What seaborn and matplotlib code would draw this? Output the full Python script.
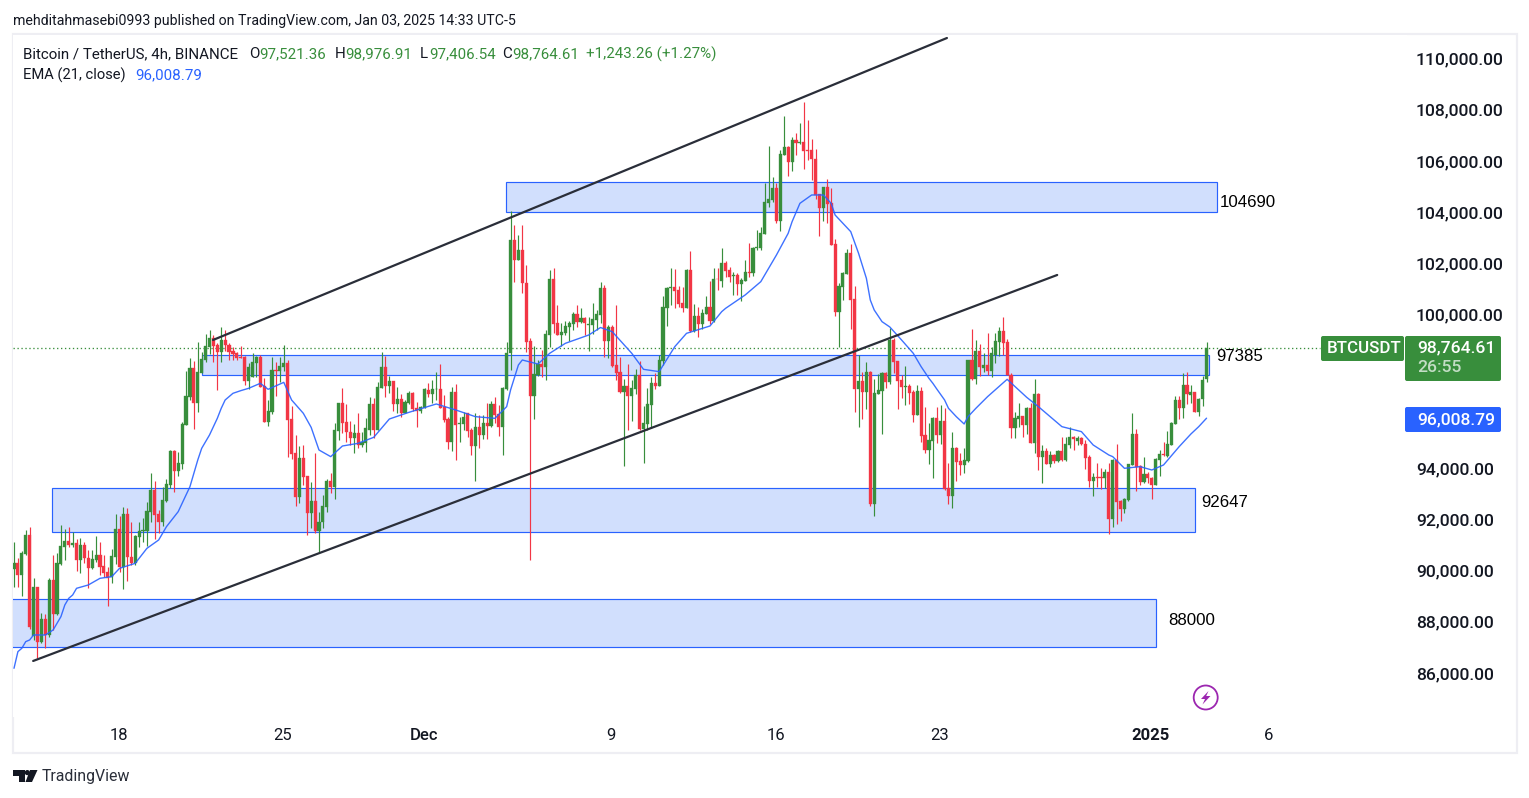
import matplotlib
matplotlib.use("Agg")
import matplotlib.pyplot as plt
import matplotlib.transforms as mtransforms
from matplotlib.patches import Rectangle, Polygon, Circle, FancyBboxPatch
from matplotlib.ticker import FuncFormatter, FixedLocator
import numpy as np
import pandas as pd
import seaborn as sns

opens = [
90105,90365,89884,90704,91446,87501,89415,87254,88165,87540,
89688,88360,90313,90964,91212,91056,91121,90470,91056,90535,
90157,90470,90665,90235,90001,89819,90574,91681,90183,92266,
90574,90365,91381,91615,91615,92344,93204,92266,91954,92774,
93399,94727,93959,94219,95743,96823,97969,96615,97787,98282,
98802,99141,98867,98594,99063,98867,98633,98568,98412,98412,
97461,97631,98164,98399,97266,95860,96250,97891,97852,97995,
98164,95977,94636,92930,94454,93750,92318,92774,91602,91967,
92553,93555,93334,95521,96602,95847,95456,95235,95430,94961,
95052,95547,96563,95547,97201,98008,97266,97461,96563,96758,
96198,96589,97005,96407,96276,96407,97110,96953,97136,97149,
96433,95977,95078,97031,95781,95781,96198,95547,94922,95651,
95339,95807,95703,96563,96159,95677,97136,98542,102969,102187,
102578,101276,99024,96888,97695,98138,98021,99258,101445,99714,
99271,99323,99583,99688,100078,99766,99935,99662,99649,99844,
100040,101094,99024,99558,98086,97800,97032,97266,96876,97162,
97696,95574,95782,96537,97370,97266,98256,100300,101107,101120,
101016,100495,100300,101797,99415,100000,99688,100079,100352,99805,
101446,101368,102084,101797,101550,101589,101250,101381,101719,101693,
102670,102670,103203,104427,104531,105000,103724,106289,106602,106016,
106875,106758,106797,106471,106471,106133,104753,104219,105039,104414,
102813,100157,101120,101628,102461,100664,97149,97461,97032,97813,
92657,96954,97071,97774,97410,99063,98256,97501,97227,97253,
97045,96121,97071,95339,94767,95131,96017,95352,95899,93269,
92983,94845,94324,94181,94337,98282,97540,98634,97956,98087,
97852,98477,98972,99415,98985,97696,95639,95977,96095,95743,
96407,95027,96954,94506,94728,94220,94571,94337,94728,94376,
94962,95287,95131,95248,95001,94506,93556,93699,93699,93660,
93907,92071,94376,92775,92462,92814,94181,95392,94142,93504,
93842,93686,93399,94376,94610,94545,94962,95782,96720,96407,
97306,96928,97032,96251,96746,97521]
highs = [
91186,90535,90834,91641,91759,89754,89428,88413,88360,89754,
90665,90730,91837,91667,91759,91576,91290,91342,91186,90860,
90860,91407,91160,90665,90209,90899,92266,92188,92553,92488,
91967,91446,91954,92097,92748,93855,93542,92423,93334,93620,
94766,94766,94701,95873,97852,98373,98230,98985,98607,99297,
99453,99271,98933,99558,99453,98933,98802,98607,98828,98438,
98151,98542,98438,98477,97566,96719,98386,98216,98386,98867,
98282,96485,95352,94922,94961,93750,93503,94636,92331,93008,
93620,93855,95807,96602,97188,96563,95899,95781,96198,95482,
96003,96849,96784,97435,98594,98438,97657,97461,97240,96940,
96719,97057,97031,96641,96485,97175,97396,97500,97813,98125,
96914,96068,97240,97344,96068,96263,96198,95625,96198,96133,
96133,96615,96680,96849,96524,97240,98984,104101,103555,103164,
103555,101992,99128,98828,98281,98672,99453,101797,101875,100430,
99740,99805,99805,100143,100430,100325,99974,99974,100521,100235,
101329,101198,99649,99649,100430,98412,97540,98126,97501,97917,
98243,96485,97175,97631,97787,98477,100782,101146,101875,101836,
101172,101120,101836,102526,100469,100339,100261,100782,101381,101875,
101888,102657,102136,101901,101732,101667,101485,102188,102839,102709,
103360,103490,105208,106641,105417,105182,106484,107812,106641,107005,
107161,107552,108359,107656,106901,106523,104753,105039,105352,105000,
103008,101302,101732,102618,102813,101172,98477,97813,98204,97852,
97540,97735,97813,97813,99519,99128,98256,97696,98048,97345,
97110,97306,97214,96433,95808,96043,96459,96524,96394,94246,
95483,94871,94636,94832,98282,99493,99063,98894,98542,99324,
98803,99324,99584,99975,99089,97761,96264,96589,96095,96433,
96589,97527,96980,94962,94832,94741,94610,94767,95287,95287,
95678,95313,95313,95261,95157,94571,93881,94246,94050,94037,
94246,94402,95001,92814,92879,94220,96225,95600,94181,94506,
93894,93725,94441,94767,95066,95522,95873,96876,96876,97761,
97813,97306,97032,96811,97670,98976]
lows = [
89428,89428,89063,90665,87775,87345,86629,87215,87045,87475,
87735,88321,90274,90470,90990,90964,90053,89949,90339,89363,
90105,90404,89884,89819,88673,89584,90313,90014,89350,89662,
90274,90274,90990,91186,91016,91967,91290,91511,91798,92748,
93269,93139,93751,94011,95730,96719,95599,96250,97761,98216,
98516,98216,97110,98216,98646,98282,98282,98282,98347,97305,
97149,97605,97631,97240,95860,95704,96172,96875,97435,97865,
94506,94402,92579,92683,93399,91446,91706,91537,90730,91706,
92357,93100,92839,95157,95417,95091,94961,94636,94831,94896,
94701,95352,95222,95547,97175,96849,96979,96302,96198,96068,
96198,96563,96302,95677,96198,96393,96849,96589,96719,96393,
95873,94805,94740,94375,95091,95547,95261,94571,93568,94857,
95209,95209,95677,95807,95313,94571,97110,97891,101341,102187,
100911,98607,90469,95977,97669,97630,97500,98776,99323,99271,
98841,99271,99037,99453,99557,99714,99258,98646,99297,99454,
99740,98412,98347,97995,97501,96980,94154,95548,95899,96954,
95548,94246,95548,95613,97149,97266,98086,99623,100430,100300,
100365,100170,100300,99363,99389,99193,99480,100079,99675,99779,
101016,101146,101537,101342,100821,100821,100599,101355,101511,101563,
102578,102578,103203,104271,104466,103620,103321,106289,105469,105664,
106289,106719,105742,106094,105313,104570,103125,103724,103620,102774,
100000,98803,100625,101628,99493,96251,95678,95977,96368,92579,
92189,96954,95391,97188,97345,97761,96368,96785,96524,96563,
95873,96121,95092,94662,94220,93686,95027,95001,93204,92657,
92514,93569,93790,93855,94311,97501,97345,97657,97826,97696,
97631,98152,98451,98477,97696,95222,95222,95652,95287,95392,
95027,94636,93985,93491,94220,94116,94272,94311,94350,94350,
94832,94767,94962,94962,94011,93334,92970,93334,93230,93269,
91486,91772,91876,92006,92319,92787,94181,93178,93399,93465,
93465,92853,93399,93764,94545,94506,94962,95782,95977,96030,
96563,96589,96251,96095,96498,97406]
closes = [
90339,89884,90756,91446,87866,89415,87280,88165,87540,89688,
88360,90352,91016,91212,91056,91121,90470,91056,90535,90157,
90509,90665,90209,89949,89767,90626,91681,90183,92266,90574,
90365,91407,91602,91641,92384,93204,92240,91954,92813,93438,
94727,93959,94245,95782,96875,97969,96615,97813,98321,98828,
99141,98841,98594,99063,98867,98594,98516,98360,98360,97461,
97995,98203,98399,97240,95860,96289,97891,97865,98047,98164,
95938,94610,92930,94454,93724,92318,92774,91602,91967,92578,
93555,93334,95547,96602,95834,95456,95235,95417,94961,95065,
95612,96563,95547,97240,98008,97279,97461,96563,96745,96198,
96641,97005,96354,96276,96459,97136,96953,97136,97149,96393,
95938,95078,97031,95742,95807,96068,95521,94922,95651,95352,
95807,95703,96563,96133,95677,97201,98555,102969,102187,102578,
101276,98998,96888,97735,98125,98021,99297,101445,99688,99271,
99375,99609,99740,100078,99766,99935,99740,99688,99883,100079,
101094,99024,99558,98047,97761,97032,97266,96876,97188,97696,
95574,95808,96563,97370,97266,98282,100339,101094,101120,100977,
100469,100300,101797,99415,100000,99688,100131,100352,99805,101446,
101433,102084,101771,101537,101589,101250,101407,101719,101693,102670,
102696,103229,104453,104570,105000,103724,106328,106602,106016,106875,
106771,106784,106445,106458,106120,104727,104219,105039,104375,102774,
100157,101172,101667,102461,100625,97149,97461,97032,97813,92657,
96993,97110,97774,97423,99063,98204,97475,97227,97253,96980,
96121,97071,95313,94754,95144,96017,95352,95899,93230,92983,
94845,94285,94181,94376,98282,97540,98634,97996,98087,97852,
98542,99024,99415,98959,97696,95639,96030,96095,95743,96407,
95027,96954,94506,94728,94220,94571,94337,94728,94376,94988,
95287,95183,95235,94988,94467,93556,93699,93686,93686,93907,
92071,94376,92748,92462,92853,94220,95392,94116,93504,93842,
93660,93399,94415,94610,94584,95001,95821,96720,96407,97306,
96941,97032,96251,96772,97501,98764]

ema_bars = [0,1,2,3,4,5,8,10,12,13,14,15,16,19,22,25,27,31,34,37,39,42,45,47,48,50,52,53,54,56,58,60,63,65,69,71,74,76,
            78,81,84,88,92,96,101,108,113,118,123,126,127,129,130,134,137,141,147,150,153,158,161,165,
            169,172,178,181,182,187,191,195,198,199,201,204,207,209,210,212,214,216,218,219,220,222,224,227,230,232,234,235,236,238,239,241,243,244,
            246,249,254,259,262,268,273,276,280,281,284,288,291,294,298,301,303,305]
ema_vals = [86239,86889,87020,87280,87345,87540,87540,87735,88256,88713,88972,89102,89363,89493,89754,89819,90144,90339,
            90925,91251,91772,92358,93334,94375,94831,95352,96003,96394,96719,96980,97084,97175,97370,97136,97409,96719,96198,95650,
            94766,94506,94922,95026,95261,95977,96237,96563,96328,96068,96003,96459,97110,98086,98281,98125,
            98542,98932,99258,99550,99388,98542,97917,97826,98803,99323,99610,100170,100300,100821,101342,
            102383,103230,103685,104401,104727,104727,104401,103945,103620,103295,102448,101472,100625,100235,99779,99570,99063,98542,98022,97566,97371,
            97149,96720,96394,96068,95782,96068,96394,96850,97527,96824,96459,95678,95483,94962,94571,94506,94051,94116,
            93985,94181,94897,95391,95678,96008]

zone_bars_left = [125.8, 48.0, 9.8, -3.0]
zone_bars_right = [307.7, 305.5, 302.0, 292.0]
zone_tops = [105223, 98466, 93271, 88935]
zone_bottoms = [104051, 97684, 91551, 87060]
zone_labels = ["104690", "97385", "92647", "88000"]
zone_label_bars = [308.5, 307.4, 303.6, 295.3]
zone_label_prices = [104420, 98400, 92730, 88120]

upper_channel_bars = [50.9, 238.6]
upper_channel_prices = [99063, 110859]
lower_channel_bars = [4.9, 266.8]
lower_channel_prices = [86525, 101602]

time_tick_bars = [27, 69, 105, 153, 195, 237, 291, 321]
time_tick_labels = ["18", "25", "Dec", "9", "16", "23", "2025", "6"]
price_ticks = [86000, 88000, 90000, 92000, 94000, 100000, 102000, 104000, 106000, 108000, 110000]
last_close = 98764.61

GREEN = "#388E3C"
RED = "#F23645"
BLUE = "#2962FF"
INK = "#131722"
W, H = 1529, 798

sns.set_theme(style="white")
plt.rcParams["font.family"] = ["Roboto", "DejaVu Sans"]

df = pd.DataFrame({"bar": np.arange(len(opens)), "open": opens, "high": highs, "low": lows, "close": closes})
ema_df = pd.DataFrame({"bar": ema_bars, "ema": ema_vals})

fig = plt.figure(figsize=(W / 100, H / 100), dpi=100, facecolor="white")
L, R, T, B = 13, 1407, 35, 717
ax = fig.add_axes([L / W, 1 - B / H, (R - L) / W, (B - T) / H])
ax.set_xlim((L - 14) / 3.91, (R - 14) / 3.91)
ax.set_ylim(110000 - (B - 60) * 39.0625, 110000 - (T - 60) * 39.0625)
for s in ax.spines.values():
    s.set_visible(False)
ax.set_facecolor("white")

# zones
for x0, x1, t, b in zip(zone_bars_left, zone_bars_right, zone_tops, zone_bottoms):
    ax.add_patch(Rectangle((x0, b), x1 - x0, t - b, facecolor="#D1DFFD", edgecolor=BLUE, lw=0.85, zorder=1))

# last price line
ax.hlines(last_close, (L - 14) / 3.91, (1320 - 14) / 3.91, colors=GREEN, linestyles=(0, (1, 2.0)), lw=0.95, zorder=1.5)

# candles
up = df["close"] >= df["open"]
colors = np.where(up, GREEN, RED)
ax.vlines(df["bar"], df["low"], df["high"], colors=colors, lw=0.85, zorder=2)
ax.bar(df["bar"], (df["close"] - df["open"]).abs(), bottom=df[["open", "close"]].min(axis=1), width=0.8,
       color=colors, edgecolor=colors, linewidth=0.25, zorder=3)

# EMA
sns.lineplot(data=ema_df, x="bar", y="ema", ax=ax, color=BLUE, lw=1.0, alpha=0.9, zorder=4, errorbar=None)

# channels
ax.plot(upper_channel_bars, upper_channel_prices, color="#2A2E39", lw=1.6, zorder=5, solid_capstyle="round")
ax.plot(lower_channel_bars, lower_channel_prices, color="#2A2E39", lw=1.6, zorder=5, solid_capstyle="round")

for lbl, xb, yp in zip(zone_labels, zone_label_bars, zone_label_prices):
    ax.text(xb, yp, lbl, fontsize=12.2, color="black", va="center", ha="left", family="Liberation Sans", zorder=6)

# axes
ax.set_xlabel(""); ax.set_ylabel("")
ax.yaxis.tick_right()
ax.yaxis.set_major_locator(FixedLocator(price_ticks))
ax.yaxis.set_major_formatter(FuncFormatter(lambda v, _: f"{v:,.2f}"))
ax.tick_params(axis="y", length=0, pad=6.5, labelsize=12.6, labelcolor=INK)
ax.xaxis.set_major_locator(FixedLocator(time_tick_bars))
ax.set_xticklabels(time_tick_labels)
ax.tick_params(axis="x", length=0, pad=7.8, labelsize=12.0, labelcolor=INK)
for tl, name in zip(ax.get_xticklabels(), time_tick_labels):
    if name in ("Dec", "2025"):
        tl.set_fontweight("bold" if name == "2025" else "medium")
up_shift = mtransforms.ScaledTranslation(0, 1.5 / 100, fig.dpi_scale_trans)
for tl in ax.get_yticklabels():
    tl.set_fontweight("medium")
    tl.set_transform(tl.get_transform() + up_shift)
left_shift = mtransforms.ScaledTranslation(-1.0 / 100, 0, fig.dpi_scale_trans)
for tl in ax.get_xticklabels():
    tl.set_transform(tl.get_transform() + left_shift)


def ftext(x, y, s, **kw):
    kw.setdefault("va", "center")
    kw.setdefault("ha", "left")
    kw.setdefault("color", INK)
    return fig.text(x / W, 1 - y / H, s, **kw)


# pane border
px = mtransforms.Affine2D().scale(1 / W, 1 / H) + fig.transFigure
border = Rectangle((12.5, H - 753), 1504, 719, fill=False, edgecolor="#EEEEF3", lw=1.6, transform=px, zorder=0)
fig.add_artist(border)

# header
ftext(13, 20.5, "mehditahmasebi0993 published on TradingView.com, Jan 03, 2025 14:33 UTC-5", fontsize=10.2)
hdr = 10.9
ftext(23, 54.5, "Bitcoin / TetherUS, 4h, BINANCE", fontsize=hdr)
for x, s in [(249, "O"), (335, "H"), (420, "L"), (502, "C")]:
    ftext(x, 54.5, s, fontsize=hdr)
for x, s in [(259, "97,521.36"), (345, "98,976.91"), (429, "97,406.54"), (512, "98,764.61"), (586, "+1,243.26 (+1.27%)")]:
    ftext(x, 54.5, s, fontsize=hdr, color=GREEN)
ftext(23, 75, "EMA (21, close)", fontsize=10.6)
ftext(135, 75, "96,008.79", fontsize=hdr, color=BLUE)


def box(x0, y0, x1, y1, color):
    fig.add_artist(FancyBboxPatch((x0, H - y1), x1 - x0, y1 - y0, boxstyle="round,pad=0,rounding_size=2",
                                  transform=px, facecolor=color, edgecolor="none", zorder=6))


box(1321, 336, 1404, 361, GREEN)
box(1405, 336, 1501, 381, GREEN)
box(1405, 407, 1501, 432, BLUE)
ftext(1327, 348.5, "BTCUSDT", fontsize=12.2, color="white", fontweight="medium", zorder=7)
ftext(1417, 348, "98,764.61", fontsize=12.6, color="white", fontweight="medium", zorder=7)
ftext(1417, 368, "26:55", fontsize=12.6, color="#C3DDC5", fontweight="medium", zorder=7)
ftext(1417, 419.5, "96,008.79", fontsize=12.6, color="white", fontweight="medium", zorder=7)

# lightning badge
fig.add_artist(Circle((1205.7, H - 697.5), 12, transform=px, facecolor="white", edgecolor="#9C27B0", lw=1.3, zorder=6))
fig.add_artist(Polygon(np.array([[1208.5, 691], [1201, 699], [1205, 699], [1202.5, 704.5], [1210.5, 696], [1206.2, 696]]) * [1, -1] + [0, H],
                       closed=True, transform=px, facecolor="#9C27B0", edgecolor="none", zorder=7))

# TradingView logo
logo = [
    [[13, 770], [24.5, 770], [24.5, 782], [18.5, 782], [18.5, 775.5], [13, 775.5]],
    [[30, 770], [37.5, 770], [32, 782], [25.5, 782]],
]
for pts in logo:
    fig.add_artist(Polygon(np.array(pts) * [1, -1] + [0, H], closed=True, transform=px, facecolor=INK, edgecolor="none"))
fig.add_artist(Circle((27.3, H - 772.6), 2.6, transform=px, facecolor=INK, edgecolor="none"))
ftext(42, 776.5, "TradingView", fontsize=11.4, color="#2A2E39")

fig.savefig("out.png", dpi=100, facecolor="white")
